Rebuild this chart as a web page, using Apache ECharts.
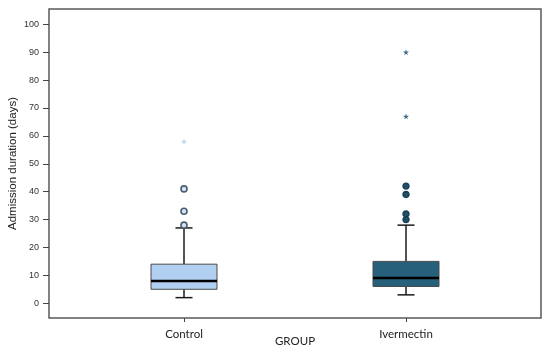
<!DOCTYPE html>
<html>
<head>
<meta charset="utf-8">
<script src="https://cdn.jsdelivr.net/npm/echarts@6/dist/echarts.min.js"></script>
<style>html,body{margin:0;padding:0;background:#fff}#c{width:550px;height:353px}</style>
</head>
<body>
<div id="c"></div>
<script>
const categories = ['Control', 'Ivermectin'];
// [min, Q1, median, Q3, max]
const controlBox = [2, 5, 8, 14, 27];
const ivermectinBox = [3, 6, 9, 15, 28];
const controlOutliers = [28, 33, 41];
const controlExtremes = [58];
const ivermectinOutliers = [30, 32, 39, 42];
const ivermectinExtremes = [67, 90];
const yTicks = [0, 10, 20, 30, 40, 50, 60, 70, 80, 90, 100];

const boxColors = ['#b1cff0', '#26607b'];
const starPath = 'path://M50,0 L61,35 L98,35 L68,57 L79,91 L50,70 L21,91 L32,57 L2,35 L39,35 Z';

const boxData = [controlBox, ivermectinBox].map((b, i) => [i].concat(b));

const chart = echarts.init(document.getElementById('c'));
const yRange = { min: -5.3, max: 105.5 };
chart.setOption({
  animation: false,
  grid: [
    { left: 49, right: 9, top: 9, bottom: 35, outerBoundsMode: 'none', containLabel: false, show: true, borderColor: '#5a5a5a', borderWidth: 1.5, backgroundColor: 'transparent' },
    { left: 73, right: 33, top: 9, bottom: 35, outerBoundsMode: 'none', containLabel: false }
  ],
  xAxis: [
    { gridIndex: 0, type: 'value', show: false, min: 0, max: 1 },
    {
      gridIndex: 1, type: 'category', data: categories, boundaryGap: true, position: 'bottom',
      axisLine: { show: false, onZero: false },
      axisTick: { show: true, alignWithLabel: true, length: 4, lineStyle: { color: '#444', width: 1 } },
      axisLabel: { margin: 10, fontSize: 11.5, color: '#222', fontFamily: 'Lato' },
      name: 'GROUP', nameLocation: 'middle', nameGap: 17, nameMoveOverlap: false,
      nameTextStyle: { fontSize: 11.5, color: '#222', fontFamily: 'Lato', verticalAlign: 'top' }
    }
  ],
  yAxis: [
    {
      gridIndex: 0, type: 'value', min: yRange.min, max: yRange.max,
      splitLine: { show: false },
      axisLine: { show: false },
      axisTick: { show: true, length: 6, customValues: yTicks, lineStyle: { color: '#444', width: 1 } },
      axisLabel: { customValues: yTicks, margin: 10, fontSize: 9, color: '#333', fontFamily: 'Liberation Sans' },
      name: 'Admission duration (days)', nameLocation: 'middle', nameGap: 30, nameRotate: 90, nameMoveOverlap: false,
      nameTextStyle: { fontSize: 11.5, color: '#222', fontFamily: 'Liberation Sans' }
    },
    { gridIndex: 1, type: 'value', min: yRange.min, max: yRange.max, show: false }
  ],
  series: [
    {
      type: 'custom', xAxisIndex: 1, yAxisIndex: 1,
      encode: { x: 0, y: [1, 2, 3, 4, 5] },
      data: boxData,
      renderItem: function (params, api) {
        const i = api.value(0);
        const c = v => api.coord([i, v]);
        const pMin = c(api.value(1)), pQ1 = c(api.value(2)), pMed = c(api.value(3)), pQ3 = c(api.value(4)), pMax = c(api.value(5));
        const x = pMed[0];
        const half = 33, cap = 8.5;
        const lineStyle = { stroke: '#1a1a1a', lineWidth: 1.5 };
        return {
          type: 'group',
          children: [
            { type: 'line', shape: { x1: x, y1: pMax[1], x2: x, y2: pQ3[1] }, style: lineStyle },
            { type: 'line', shape: { x1: x, y1: pQ1[1], x2: x, y2: pMin[1] }, style: lineStyle },
            { type: 'line', shape: { x1: x - cap, y1: pMax[1], x2: x + cap, y2: pMax[1] }, style: lineStyle },
            { type: 'line', shape: { x1: x - cap, y1: pMin[1], x2: x + cap, y2: pMin[1] }, style: lineStyle },
            { type: 'rect', shape: { x: x - half, y: pQ3[1], width: half * 2, height: pQ1[1] - pQ3[1] },
              style: { fill: boxColors[i], stroke: '#4a4a4a', lineWidth: 1 } },
            { type: 'line', shape: { x1: x - half, y1: pMed[1], x2: x + half, y2: pMed[1] }, style: { stroke: '#000', lineWidth: 2.5 } }
          ]
        };
      }
    },
    {
      type: 'scatter', xAxisIndex: 1, yAxisIndex: 1, symbol: 'circle', symbolSize: 6,
      data: controlOutliers.map(v => [0, v]),
      itemStyle: { color: '#d5e3f2', borderColor: '#4b5d70', borderWidth: 1.6, opacity: 1 }
    },
    {
      type: 'scatter', xAxisIndex: 1, yAxisIndex: 1, symbol: 'circle', symbolSize: 6,
      data: ivermectinOutliers.map(v => [1, v]),
      itemStyle: { color: '#1f5068', borderColor: '#173e52', borderWidth: 1.4, opacity: 1 }
    },
    {
      type: 'scatter', xAxisIndex: 1, yAxisIndex: 1, symbol: starPath, symbolSize: 6,
      data: controlExtremes.map(v => [0, v]),
      itemStyle: { color: '#bcd3ec', opacity: 1 }
    },
    {
      type: 'scatter', xAxisIndex: 1, yAxisIndex: 1, symbol: starPath, symbolSize: 6,
      data: ivermectinExtremes.map(v => [1, v]),
      itemStyle: { color: '#3d6b84', opacity: 1 }
    }
  ]
});
</script>
</body>
</html>
